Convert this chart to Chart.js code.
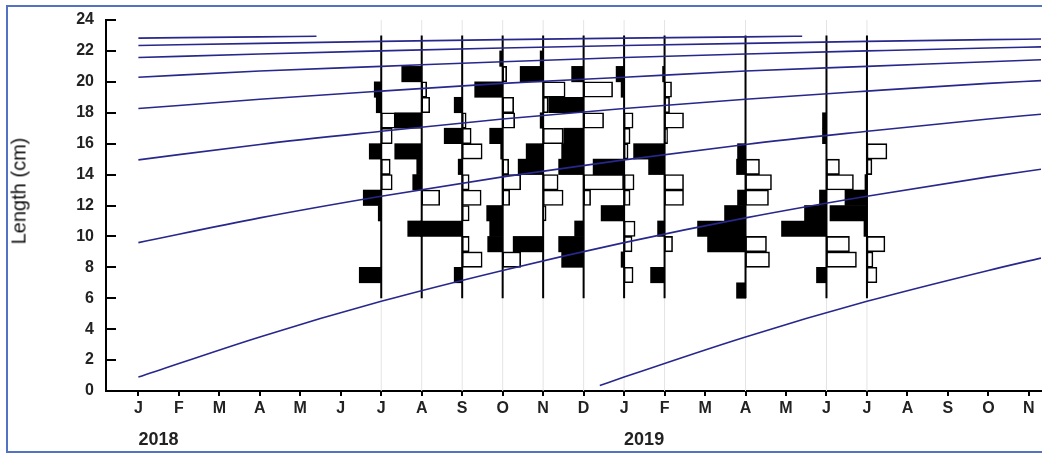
<!DOCTYPE html>
<html>
<head>
<meta charset="utf-8">
<script src="https://cdn.jsdelivr.net/npm/chart.js@4.4.1/dist/chart.umd.min.js"></script>
<style>
  html, body { margin: 0; padding: 0; background: #fff; overflow: hidden; }
  #wrap { position: relative; width: 1042px; height: 453px; overflow: hidden; }
  #moldura { position: absolute; left: 6px; top: 5px; width: 1100px; height: 448px; border: 2px solid #5272c4; box-sizing: border-box; }
  #grafico { position: absolute; left: 0; top: 0; }
  #titulo-y { position: absolute; left: 19px; top: 191px; transform: translate(-50%, -50%) rotate(-90deg);
              font: 20px "Liberation Sans", Arial, sans-serif; color: #111; white-space: nowrap; }
</style>
</head>
<body>
<div id="wrap">
  <div id="moldura"></div>
  <canvas id="grafico" width="1042" height="453"></canvas>
  <div id="titulo-y">Length (cm)</div>
</div>
<script>
// months counted from January 2018
const monthTicks = [0, 1, 2, 3, 4, 5, 6, 7, 8, 9, 10, 11, 12, 13, 14, 15, 16, 17, 18, 19, 20, 21, 22];
const monthLabels = ["J", "F", "M", "A", "M", "J", "J", "A", "S", "O", "N", "D", "J", "F", "M", "A", "M", "J", "J", "A", "S", "O", "N"];
const yearTicks = [0, 12];
const yearLabels = ["2018", "2019"];
const lengthTicks = [0, 2, 4, 6, 8, 10, 12, 14, 16, 18, 20, 22, 24];

// sampling dates (months) and length classes (lower bound, cm)
const sampleMonths = [6, 7, 8, 9, 10, 11, 12, 13, 15, 17, 18];
const binStarts = [6, 7, 8, 9, 10, 11, 12, 13, 14, 15, 16, 17, 18, 19, 20, 21, 22];

// restructured scores per length class: black (negative, left) / white (positive, right)
const negJul18 = [0, 22, 0, 0, 0, 3, 18, 0, 0, 12, 0, 0, 5, 7, 0, 0, 0];
const posJul18 = [0, 0, 0, 0, 0, 0, 0, 11, 9, 0, 11, 14, 0, 0, 0, 0, 0];
const negAug18 = [0, 0, 0, 0, 14, 0, 0, 9, 5, 27, 0, 27, 0, 0, 20, 0, 0];
const posAug18 = [0, 0, 0, 0, 0, 0, 18, 0, 0, 0, 0, 0, 8, 5, 0, 0, 0];
const negSep18 = [0, 8, 0, 0, 42, 0, 0, 0, 4, 0, 18, 0, 8, 0, 0, 0, 0];
const posSep18 = [0, 0, 20, 7, 0, 7, 19, 7, 0, 20, 9, 4, 0, 0, 0, 0, 0];
const negOct18 = [0, 0, 0, 15, 13, 16, 0, 0, 0, 2, 13, 0, 0, 28, 0, 3, 0];
const posOct18 = [0, 0, 18, 0, 0, 0, 7, 18, 6, 0, 0, 12, 11, 0, 4, 0, 0];
const negNov18 = [0, 0, 0, 30, 0, 0, 0, 0, 25, 17, 0, 3, 0, 0, 23, 3, 0];
const posNov18 = [0, 0, 0, 0, 0, 3, 20, 15, 0, 0, 20, 0, 5, 22, 0, 0, 0];
const negDec18 = [0, 0, 22, 25, 9, 0, 0, 0, 25, 22, 20, 0, 35, 0, 12, 0, 0];
const posDec18 = [0, 0, 0, 0, 0, 0, 7, 40, 0, 0, 0, 20, 0, 29, 0, 0, 0];
const negJan19 = [0, 0, 3, 0, 0, 23, 0, 0, 31, 0, 0, 0, 0, 3, 8, 0, 0];
const posJan19 = [0, 9, 0, 8, 11, 0, 6, 10, 0, 4, 6, 9, 0, 0, 0, 0, 0];
const negFeb19 = [0, 14, 0, 0, 7, 0, 0, 0, 16, 31, 0, 0, 0, 0, 2, 0, 0];
const posFeb19 = [0, 0, 0, 8, 0, 0, 19, 19, 0, 0, 3, 19, 5, 7, 0, 0, 0];
const negApr19 = [9, 0, 0, 38, 48, 21, 8, 0, 9, 8, 0, 0, 0, 0, 0, 0, 0];
const posApr19 = [0, 0, 24, 21, 0, 0, 23, 26, 14, 0, 0, 0, 0, 0, 0, 0, 0];
const negJun19 = [0, 10, 0, 0, 45, 22, 7, 0, 0, 0, 4, 4, 0, 0, 0, 0, 0];
const posJun19 = [0, 0, 30, 23, 0, 0, 0, 27, 13, 0, 0, 0, 0, 0, 0, 0, 0];
const negJul19 = [0, 0, 0, 0, 3, 37, 22, 2, 0, 0, 0, 0, 0, 0, 0, 0, 0];
const posJul19 = [0, 10, 6, 18, 0, 0, 0, 0, 5, 20, 0, 0, 0, 0, 0, 0, 0];

// growth curves (cohorts), month -> length (cm)
const curveMonths = [0, 3, 6, 9, 12, 15, 18, 21, 22.3];
const cohortA = [0.9, 3.5, 5.8, 7.8, 9.6, 11.2, 12.6, 13.85, 14.35];
const cohortB = [9.6, 11.2, 12.6, 13.85, 14.95, 15.95, 16.8, 17.6, 17.9];
const cohortC = [14.95, 15.95, 16.8, 17.6, 18.27, 18.87, 19.4, 19.9, 20.08];
const cohortD = [18.27, 18.87, 19.4, 19.9, 20.3, 20.7, 21.0, 21.3, 21.43];
const cohortE = [20.3, 20.7, 21.0, 21.3, 21.57, 21.8, 22.0, 22.19, 22.26];
const cohortF = [21.57, 21.8, 22.0, 22.19, 22.35, 22.49, 22.62, 22.73, 22.77];
const monthsG = [0, 3, 6, 9, 12, 15, 16.4];
const cohortG = [22.35, 22.49, 22.62, 22.73, 22.83, 22.91, 22.95];
const monthsH = [0, 3, 4.4];
const cohortH = [22.83, 22.91, 22.95];
const monthsI = [11.4, 12, 15, 18, 21, 22.3];
const cohortI = [0.35, 0.9, 3.5, 5.8, 7.8, 8.6];

const negScores = [negJul18, negAug18, negSep18, negOct18, negNov18, negDec18, negJan19, negFeb19, negApr19, negJun19, negJul19];
const posScores = [posJul18, posAug18, posSep18, posOct18, posNov18, posDec18, posJan19, posFeb19, posApr19, posJun19, posJul19];

const scoreToMonths = 1 / 40.5;
const fonte = '"Liberation Sans", Arial, sans-serif';
const azul = "#27278c";

function barras(month, scores, sinal) {
    const pts = [];
    scores.forEach((s, i) => {
        if (s > 0) pts.push({ y: binStarts[i] + 0.5, x: [month, month + sinal * s * scoreToMonths] });
    });
    return pts;
}

function curva(meses, valores) {
    return {
        type: "line",
        data: meses.map((m, i) => ({ x: m, y: valores[i] })),
        borderColor: azul,
        borderWidth: 1.6,
        pointRadius: 0,
        fill: false,
        cubicInterpolationMode: "monotone",
        order: 1
    };
}

const datasets = [];

// light grid lines at sampling dates
sampleMonths.forEach(m => {
    datasets.push({
        type: "line",
        data: [{ x: m, y: 0 }, { x: m, y: 24 }],
        borderColor: "#e4e4e4",
        borderWidth: 1,
        pointRadius: 0,
        order: 6
    });
});

sampleMonths.forEach((m, k) => {
    datasets.push({
        type: "bar",
        indexAxis: "y",
        grouped: false,
        data: barras(m, posScores[k], 1),
        backgroundColor: "#fff",
        borderColor: "#000",
        borderWidth: 1.6,
        borderSkipped: false,
        barPercentage: 1,
        categoryPercentage: 1,
        order: 5
    });
    datasets.push({
        type: "bar",
        indexAxis: "y",
        grouped: false,
        data: barras(m, negScores[k], -1),
        backgroundColor: "#000",
        borderWidth: 0,
        borderSkipped: false,
        barPercentage: 1,
        categoryPercentage: 1,
        order: 4
    });
    datasets.push({
        type: "line",
        data: [{ x: m, y: 6 }, { x: m, y: 23 }],
        borderColor: "#000",
        borderWidth: 2,
        pointRadius: 0,
        order: 3
    });
});

[[curveMonths, cohortA], [curveMonths, cohortB], [curveMonths, cohortC], [curveMonths, cohortD],
 [curveMonths, cohortE], [curveMonths, cohortF], [monthsG, cohortG], [monthsH, cohortH], [monthsI, cohortI]]
    .forEach(([m, v]) => datasets.push(curva(m, v)));

const grafico = new Chart(document.getElementById("grafico"), {
    type: "line",
    data: { datasets: datasets },
    options: {
        responsive: false,
        animation: false,
        events: [],
        layout: { padding: { left: 8, top: 20, right: 1, bottom: 0 } },
        datasets: { bar: { indexAxis: "y", grouped: false } },
        plugins: { legend: { display: false }, tooltip: { enabled: false } },
        scales: {
            x: {
                type: "linear",
                min: -0.8,
                max: 22.3,
                bounds: "data",
                offset: false,
                weight: 0,
                afterBuildTicks: s => { s.ticks = monthTicks.map(v => ({ value: v })); },
                afterFit: s => { s.height = 30; },
                grid: { drawOnChartArea: false, drawTicks: true, tickLength: 5, color: "#000", lineWidth: 2, offset: false },
                border: { display: true, color: "#000", width: 2 },
                ticks: {
                    autoSkip: false, maxRotation: 0, padding: 3, color: "#222",
                    font: { family: fonte, size: 16, weight: "bold" },
                    callback: (v, i) => monthLabels[i]
                }
            },
            x2: {
                type: "linear",
                position: "bottom",
                min: -0.8,
                max: 22.3,
                bounds: "data",
                weight: 1,
                afterBuildTicks: s => { s.ticks = yearTicks.map(v => ({ value: v })); },
                afterFit: s => { s.height = 32; },
                grid: { display: false, drawTicks: false },
                border: { display: false },
                ticks: {
                    align: "start", autoSkip: false, maxRotation: 0, padding: 8, color: "#222",
                    font: { family: fonte, size: 18, weight: "bold" },
                    callback: (v, i) => yearLabels[i]
                }
            },
            y: {
                type: "linear",
                min: 0,
                max: 24,
                bounds: "data",
                offset: false,
                afterBuildTicks: s => { s.ticks = lengthTicks.map(v => ({ value: v })); },
                afterFit: s => { s.width = 98; s.paddingTop = 0; s.paddingBottom = 0; },
                grid: { drawOnChartArea: false, drawTicks: true, tickLength: -10, color: "#000", lineWidth: 2, offset: false },
                border: { display: true, color: "#000", width: 2 },
                ticks: {
                    padding: 22, color: "#222",
                    font: { family: fonte, size: 16, weight: "bold" }
                }
            }
        }
    }
});
</script>
</body>
</html>
